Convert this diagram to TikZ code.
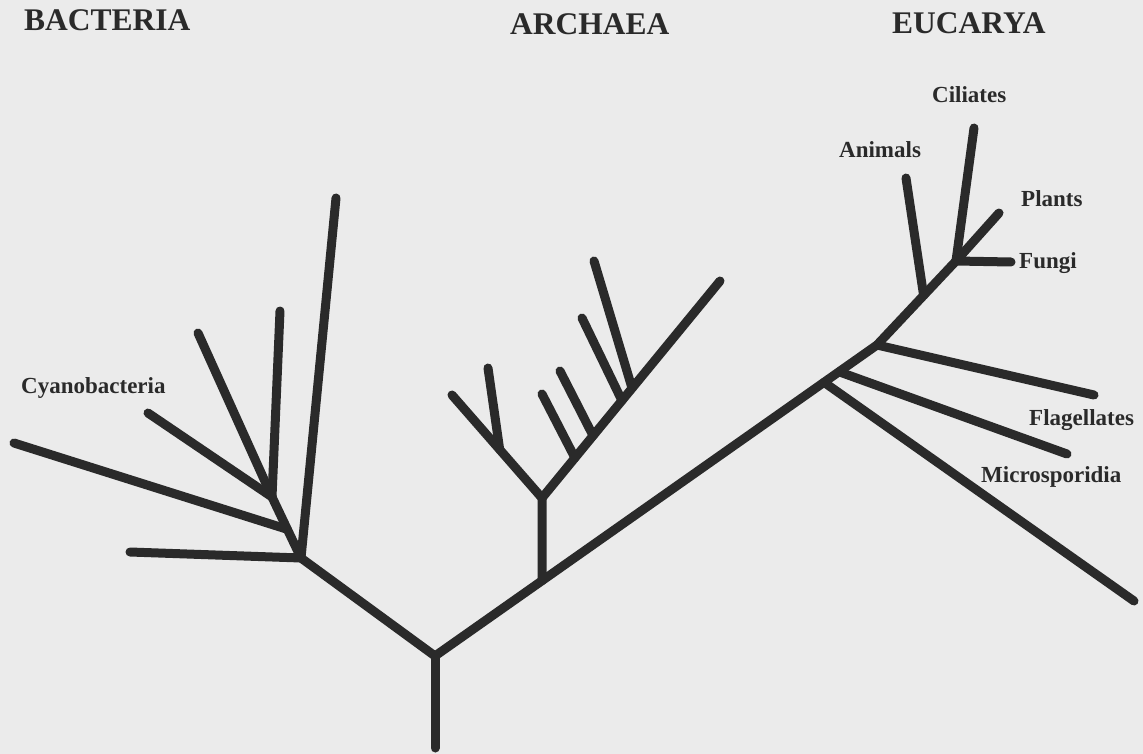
\documentclass[tikz,border=0pt]{standalone}
\usepackage{fontspec}
\setmainfont{Liberation Serif}
\usetikzlibrary{calc}
\definecolor{ink}{HTML}{2A2A2A}
\definecolor{paper}{HTML}{EBEBEB}
\tikzset{
  branch/.style={draw=ink, line width=9pt, line cap=round, line join=round},
  title/.style={anchor=base west, inner sep=0pt, text=ink, font=\fontsize{31.5}{32}\selectfont\bfseries},
  taxon/.style={anchor=base west, inner sep=0pt, text=ink, font=\fontsize{23}{24}\selectfont\bfseries},
}
\begin{document}
\begin{tikzpicture}[x=1pt,y=-1pt]
\fill[paper] (0,0) rectangle (1143,754);
\useasboundingbox (0,0) rectangle (1143,754);

% titles
\node[title] (tb) at (24,31) {BACTERIA};
\node[title] (ta) at (510,35) {ARCHAEA};
\node[title] (te) at (892,34) {EUCARYA};

% trunk
\coordinate (base) at (435,748);
\coordinate (root) at (435,656);
\coordinate (E2) at (877,345);
\coordinate (E4) at (956,261);
\coordinate (A0) at ($(root)!0.2421!(E2)$);
\coordinate (E0) at ($(root)!0.8801!(E2)$);
\coordinate (E1) at ($(root)!0.9140!(E2)$);
\coordinate (E3) at ($(E2)!0.59!(E4)$);

% bacteria
\coordinate (B0) at (301,558);
\coordinate (B1) at (272,497);
\coordinate (Bm) at ($(B0)!0.47!(B1)$);
\coordinate (Btop) at (336,198);
\coordinate (Bleft) at (130,552);
\coordinate (Bfar) at (14,443);
\coordinate (Bv) at (280,311);
\coordinate (Bmid) at (198,333);
\coordinate (Bcy) at (148,413);

% archaea
\coordinate (A1) at (542,498);
\coordinate (Aleft) at (452,395);
\coordinate (Als) at ($(A1)!0.47!(Aleft)$);
\coordinate (Alt) at (488,368);
\coordinate (Aright) at (720,281);
\coordinate (Ar1) at ($(A1)!0.185!(Aright)$);
\coordinate (Ar2) at ($(A1)!0.287!(Aright)$);
\coordinate (Ar3) at ($(A1)!0.449!(Aright)$);
\coordinate (Ar4) at ($(A1)!0.506!(Aright)$);
\coordinate (Ar1t) at (542,394);
\coordinate (Ar2t) at (560,371);
\coordinate (Ar3t) at (582,318);
\coordinate (Ar4t) at (594,261);

% eucarya leaves
\coordinate (Emic) at (1134,601);
\coordinate (Emic2) at (1067,454);
\coordinate (Eflag) at (1094,395);
\coordinate (Eani) at (906,178);
\coordinate (Ecil) at (974,128);
\coordinate (Epla) at (999,213);
\coordinate (Efun) at (1011,262);

% branches
\draw[branch] (base) -- (root);
\draw[branch] (root) -- (B0);
\draw[branch] (root) -- (E2) -- (E4);
\draw[branch] (B0) -- (Btop);
\draw[branch] (B0) -- (Bleft);
\draw[branch] (B0) -- (B1);
\draw[branch] (Bm) -- (Bfar);
\draw[branch] (B1) -- (Bv);
\draw[branch] (B1) -- (Bmid);
\draw[branch] (B1) -- (Bcy);

\draw[branch] (A0) -- (A1);
\draw[branch] (A1) -- (Aleft);
\draw[branch] (Als) -- (Alt);
\draw[branch] (A1) -- (Aright);
\draw[branch] (Ar1) -- (Ar1t);
\draw[branch] (Ar2) -- (Ar2t);
\draw[branch] (Ar3) -- (Ar3t);
\draw[branch] (Ar4) -- (Ar4t);

\draw[branch] (E0) -- (Emic);
\draw[branch] (E1) -- (Emic2);
\draw[branch] (E2) -- (Eflag);
\draw[branch] (E3) -- (Eani);
\draw[branch] (E4) -- (Ecil);
\draw[branch] (E4) -- (Epla);
\draw[branch] (E4) -- (Efun);

% labels
\node[taxon] (lcy) at (21,393) {Cyanobacteria};
\node[taxon] (lci) at (932,103) {Ciliates};
\node[taxon] (lan) at (839,158) {Animals};
\node[taxon] (lpl) at (1021,207) {Plants};
\node[taxon] (lfu) at (1019,268) {Fungi};
\node[taxon] (lfl) at (1029,425) {Flagellates};
\node[taxon] (lmi) at (981,482) {Microsporidia};
\end{tikzpicture}
\end{document}
